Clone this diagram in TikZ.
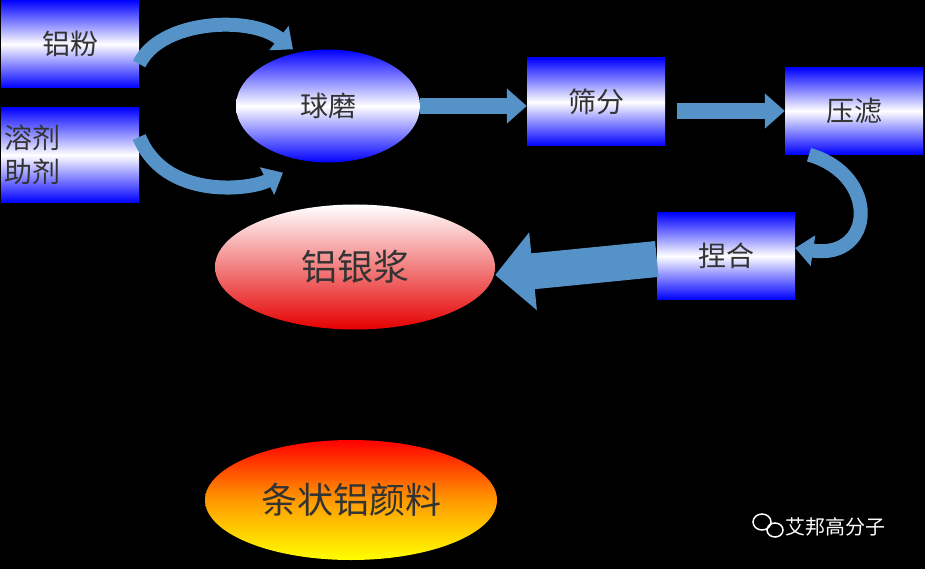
\documentclass[tikz,border=0pt]{standalone}
\usepackage{fontspec}
\newfontfamily\cjk{Noto Sans CJK SC}
\usetikzlibrary{shapes.geometric,arrows.meta}
\definecolor{arr}{HTML}{5592C8}
\definecolor{txt}{HTML}{333333}
\tikzset{
  bbox/.style={rectangle,minimum width=138pt,minimum height=88pt,inner sep=0pt,top color=blue,bottom color=blue,middle color=white,font=\cjk\fontsize{28}{34}\selectfont,text=txt},
  ell/.style={ellipse,inner sep=0pt,text=txt},
  flow/.style={arr,line width=16pt,-{Triangle[width=34pt,length=20pt]}},
  curvarrow/.style={arr,line width=14pt,-{Triangle[width=30pt,length=18pt]}}
}
\begin{document}
\begin{tikzpicture}[x=1pt,y=-1pt]
\fill[black] (0,0) rectangle (925,569);
\useasboundingbox (0,0) rectangle (925,569);
\node[bbox] (lf) at (70,44) {铝粉};
\node[bbox,minimum height=95pt,align=left,text width=130pt] (rj) at (70,155) {溶剂\\助剂};
\node[ell,minimum width=184pt,minimum height=113pt,top color=blue,bottom color=blue,middle color=white,font=\cjk\fontsize{28}{34}\selectfont] (qm) at (328,106) {球磨};
\node[bbox] (sf) at (596,102) {筛分};
\node[bbox,minimum height=87pt] (yl) at (854,111) {压滤};
\node[bbox,minimum height=87pt] (nh) at (726,256) {捏合};
\node[ell,minimum width=280pt,minimum height=125pt,top color=white,bottom color=red!90!black,font=\cjk\fontsize{36}{42}\selectfont] (lyj) at (355,267) {铝银浆};
\node[ell,minimum width=292pt,minimum height=120pt,top color=red,bottom color=yellow,middle color=orange!80!yellow,font=\cjk\fontsize{36}{42}\selectfont] (tz) at (351,500) {条状铝颜料};
\node[font=\cjk\fontsize{20}{24}\selectfont,text=white] (wm) at (835,527) {艾邦高分子};
\draw[white,line width=1.5pt] (762,522) ellipse (9 and 8) (775,530) ellipse (8 and 7);
\draw[flow] (qm.east) -- (sf.west |- qm.east);
\draw[flow] ([xshift=12pt]sf.east |- yl.west) -- (yl.west);
\draw[arr,line width=36pt,-{Triangle[width=76pt,length=38pt]}] (nh.west |- lyj.east) ++(0,-8) -- ([yshift=-8pt]lyj.east);
\draw[curvarrow] ([yshift=-20pt]lf.east) .. controls (160,20) and (250,15) .. ([xshift=-35pt]qm.north);
\draw[curvarrow] ([yshift=18pt]rj.east) .. controls (165,200) and (250,190) .. ([xshift=-45pt,yshift=-10pt]qm.south);
\draw[curvarrow] ([xshift=-45pt]yl.south) .. controls (880,175) and (875,260) .. ([yshift=8pt]nh.east);
\end{tikzpicture}
\end{document}
